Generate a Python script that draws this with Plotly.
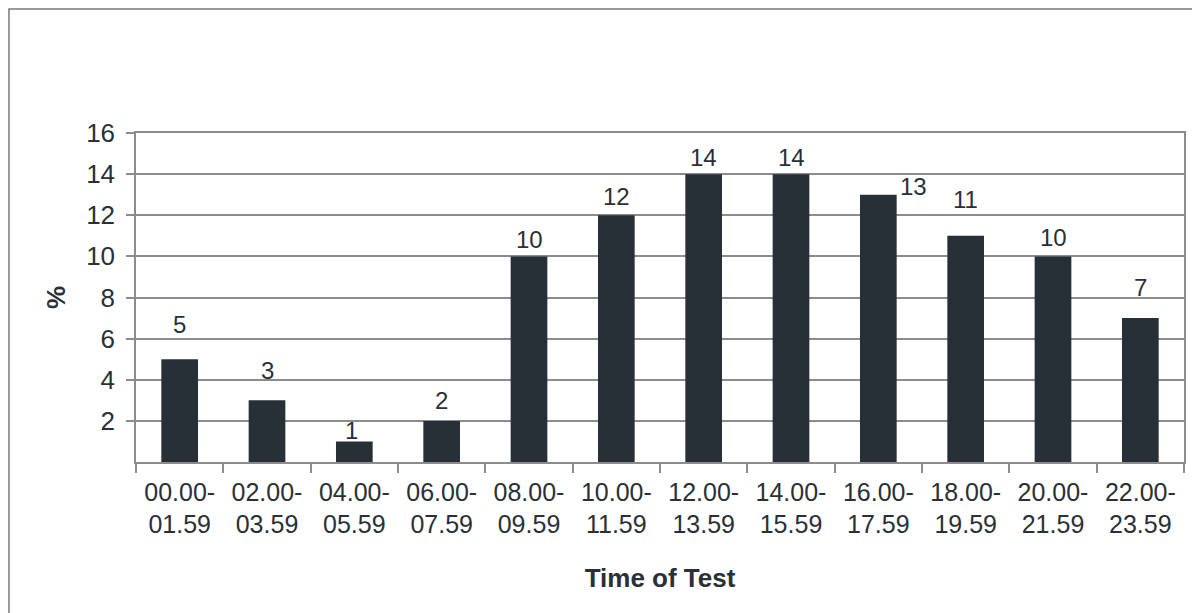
import plotly.graph_objects as go

# time slots (two lines per tick label) and share of tests in %
slotStart = ['00.00-', '02.00-', '04.00-', '06.00-', '08.00-', '10.00-',
             '12.00-', '14.00-', '16.00-', '18.00-', '20.00-', '22.00-']
slotEnd = ['01.59', '03.59', '05.59', '07.59', '09.59', '11.59',
           '13.59', '15.59', '17.59', '19.59', '21.59', '23.59']
pct = [5, 3, 1, 2, 10, 12, 14, 14, 13, 11, 10, 7]
yTicks = [2, 4, 6, 8, 10, 12, 14, 16]

slots = [a + '<br>' + b for a, b in zip(slotStart, slotEnd)]

# label nudges, in px (the original labels sit unevenly)
lblDy = [35, 30, 11, 20, 17, 19, 17, 17, 8, 36, 19, 31]
lblDx = [0, 0, -3, 0, 0, 0, 0, 0, 35, 0, 0, 0]

FONT = 'Liberation Sans, Arial, sans-serif'
INK = '#2a3035'
GRID = '#8c8c8c'

fig = go.Figure()
fig.add_trace(go.Bar(
    x=slots, y=pct, marker=dict(color='#273036', line=dict(width=0)),
    width=0.42, showlegend=False, hoverinfo='x+y'
))

for s, v, dy, dx in zip(slots, pct, lblDy, lblDx):
    fig.add_annotation(
        x=s, y=v, text=str(v), showarrow=False, yanchor='middle',
        yshift=dy, xshift=dx, font=dict(family=FONT, size=24, color=INK)
    )

# outer frame around the chart area (cut off at right and bottom)
fig.add_shape(
    type='rect', xref='paper', yref='paper',
    x0=-0.1212, x1=1.2, y0=-0.6, y1=1.377,
    line=dict(color='#7a7a7a', width=1.5), layer='below'
)

fig.update_xaxes(
    type='category', tickson='boundaries', ticks='outside', ticklen=9,
    tickcolor=GRID, tickwidth=1.5, showline=True, linecolor=GRID,
    linewidth=1.5, mirror=True, showgrid=False, ticklabelstandoff=7,
    tickfont=dict(family=FONT, size=25, color=INK),
    title=dict(text='<b>Time of Test</b>', standoff=32,
               font=dict(family=FONT, size=26, color=INK))
)
fig.update_yaxes(
    range=[0, 16], tickvals=yTicks, ticks='outside', ticklen=8,
    tickcolor=GRID, tickwidth=1.5, showline=True, linecolor=GRID,
    linewidth=1.5, mirror=True, showgrid=True, gridcolor=GRID,
    gridwidth=1.5, zeroline=False, ticklabelstandoff=6,
    tickfont=dict(family=FONT, size=26, color=INK),
    title=dict(text='<b>%</b>', standoff=13,
               font=dict(family=FONT, size=26, color=INK))
)
fig.update_layout(
    width=1192, height=605,
    margin=dict(l=128, r=16, t=125, b=151),
    plot_bgcolor='white', paper_bgcolor='white',
    bargap=0.58
)
fig.write_html("out.html")
